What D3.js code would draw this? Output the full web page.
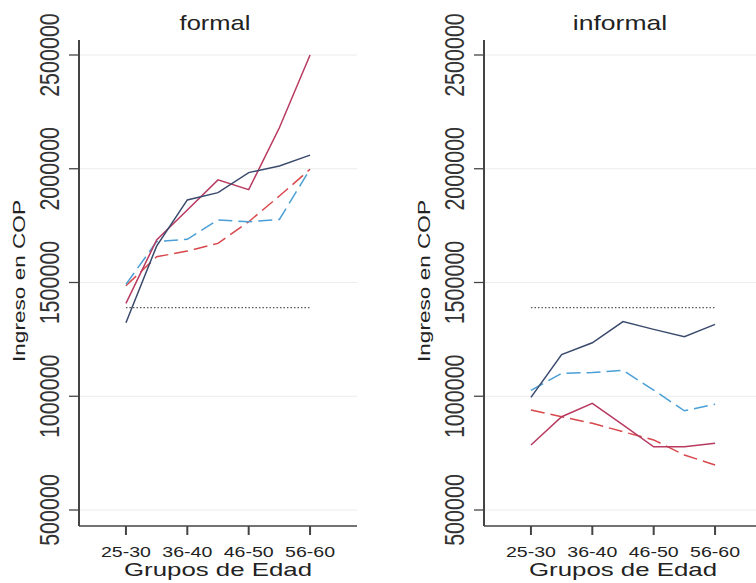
<!DOCTYPE html>
<html>
<head>
<meta charset="utf-8">
<script src="https://cdn.jsdelivr.net/npm/d3@7"></script>
<style>
  body { margin: 0; background: #fff; }
  svg { display: block; }
  text { font-family: "Liberation Sans", Arial, sans-serif; fill: #222; }
</style>
</head>
<body>
<svg id="chart" width="756" height="583"></svg>
<script>
// ---------------- data ----------------
const categories = ["25-30", "31-35", "36-40", "41-45", "46-50", "51-55", "56-60"];
const xTickLabels = ["25-30", "36-40", "46-50", "56-60"];
const yTicks = [500000, 1000000, 1500000, 2000000, 2500000];
const panelTitles = ["formal", "informal"];
const yTitle = "Ingreso en COP";
const xTitle = "Grupos de Edad";

// formal
const formalNavy    = [1323000, 1660000, 1863000, 1895000, 1983000, 2012000, 2060000];
const formalCrimson = [1408000, 1687000, 1819000, 1951000, 1908000, 2180000, 2500000];
const formalBlue    = [1492000, 1680000, 1690000, 1775000, 1767000, 1777000, 1998000];
const formalRed     = [1486000, 1613000, 1638000, 1672000, 1767000, 1880000, 1998000];
// informal
const informalNavy    = [995000, 1183000, 1235000, 1328000, 1294000, 1262000, 1316000];
const informalCrimson = [786000, 910000, 969000, 874000, 778000, 778000, 793000];
const informalBlue    = [1026000, 1101000, 1104000, 1114000, 1027000, 936000, 965000];
const informalRed     = [940000, 910000, 881000, 844000, 808000, 742000, 698000];

const referenceLevel = 1390000;

// ---------------- styles ----------------
const seriesStyle = {
  navy:    { color: "#3a4a6d", dash: null },
  crimson: { color: "#b83a60", dash: null },
  blue:    { color: "#4a9fd6", dash: "14,6" },
  red:     { color: "#d8474c", dash: "14,6" }
};

const panels = [
  { title: panelTitles[0], x0: 79,
    series: [["red", formalRed], ["blue", formalBlue], ["crimson", formalCrimson], ["navy", formalNavy]] },
  { title: panelTitles[1], x0: 484,
    series: [["red", informalRed], ["blue", informalBlue], ["crimson", informalCrimson], ["navy", informalNavy]] }
];

const svg = d3.select("#chart");
const panelW = 278;
const axisTop = 40, axisBottom = 526;

const y = d3.scaleLinear().domain([500000, 2500000]).range([510, 55]);

panels.forEach(p => {
  const g = svg.append("g");
  const x = d3.scalePoint().domain(categories).range([p.x0, p.x0 + panelW]).padding(1.53);

  // gridlines
  g.selectAll("line.grid").data(yTicks).join("line")
    .attr("x1", p.x0).attr("x2", p.x0 + panelW)
    .attr("y1", d => y(d)).attr("y2", d => y(d))
    .attr("stroke", "#ececec").attr("stroke-width", 1);

  // y axis
  g.append("line").attr("x1", p.x0).attr("x2", p.x0)
    .attr("y1", axisTop).attr("y2", axisBottom)
    .attr("stroke", "#444").attr("stroke-width", 2);
  g.selectAll("line.ytick").data(yTicks).join("line")
    .attr("x1", p.x0 - 10).attr("x2", p.x0)
    .attr("y1", d => y(d)).attr("y2", d => y(d))
    .attr("stroke", "#444").attr("stroke-width", 1.3);
  g.selectAll("text.ylab").data(yTicks).join("text")
    .attr("transform", d => `translate(${p.x0 - 20},${y(d)}) rotate(-90) scale(1,1.3)`)
    .attr("text-anchor", "middle")
    .attr("font-size", 21.5)
    .style("fill", "#333")
    .text(d => d);
  g.append("text")
    .attr("transform", `translate(${p.x0 - 54},281) rotate(-90)`)
    .attr("text-anchor", "middle")
    .attr("font-size", 16.5)
    .attr("textLength", 162)
    .attr("lengthAdjust", "spacingAndGlyphs")
    .text(yTitle);

  // x axis
  g.append("line").attr("x1", p.x0).attr("x2", p.x0 + panelW)
    .attr("y1", axisBottom).attr("y2", axisBottom)
    .attr("stroke", "#444").attr("stroke-width", 1.5);
  g.selectAll("line.xtick").data(xTickLabels).join("line")
    .attr("x1", d => x(d)).attr("x2", d => x(d))
    .attr("y1", axisBottom).attr("y2", axisBottom + 9)
    .attr("stroke", "#444").attr("stroke-width", 2);
  g.selectAll("text.xlab").data(xTickLabels).join("text")
    .attr("x", d => x(d)).attr("y", 557)
    .attr("text-anchor", "middle")
    .attr("font-size", 15)
    .attr("textLength", 50)
    .attr("lengthAdjust", "spacingAndGlyphs")
    .text(d => d);
  const xMid = (x(categories[0]) + x(categories[categories.length - 1])) / 2;
  g.append("text")
    .attr("x", xMid).attr("y", 576)
    .attr("text-anchor", "middle")
    .attr("font-size", 19)
    .attr("textLength", 188)
    .attr("lengthAdjust", "spacingAndGlyphs")
    .text(xTitle);

  // title
  g.append("text")
    .attr("x", xMid - 3).attr("y", 30)
    .attr("text-anchor", "middle")
    .attr("font-size", 21)
    .attr("textLength", p.title.length * 11.8)
    .attr("lengthAdjust", "spacingAndGlyphs")
    .text(p.title);

  // reference dotted line
  g.append("line")
    .attr("x1", x(categories[0])).attr("x2", x(categories[categories.length - 1]))
    .attr("y1", y(referenceLevel)).attr("y2", y(referenceLevel))
    .attr("stroke", "#555").attr("stroke-width", 1.3)
    .attr("stroke-dasharray", "1.5,2");

  // series
  const line = d3.line().x((d, i) => x(categories[i])).y(d => y(d));
  p.series.forEach(([key, vals]) => {
    const st = seriesStyle[key];
    g.append("path").datum(vals)
      .attr("d", line)
      .attr("fill", "none")
      .attr("stroke", st.color)
      .attr("stroke-width", 1.5)
      .attr("stroke-dasharray", st.dash);
  });
});
</script>
</body>
</html>
